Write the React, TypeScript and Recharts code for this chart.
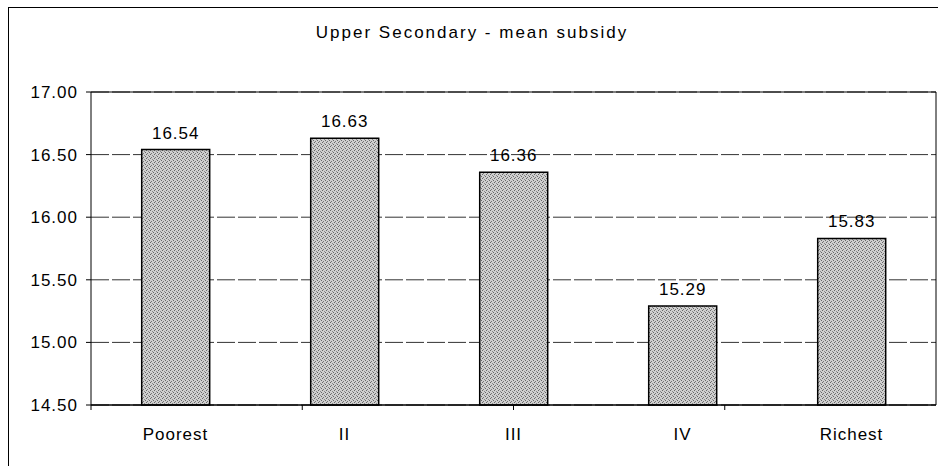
import React from 'react';
import { BarChart, Bar, XAxis, YAxis, CartesianGrid, LabelList, ReferenceLine } from 'recharts';

const quintiles = ['Poorest', 'II', 'III', 'IV', 'Richest'];
const meanSubsidy = [16.54, 16.63, 16.36, 15.29, 15.83];
const yTicks = [14.5, 15.0, 15.5, 16.0, 16.5, 17.0];
const edgeTicks = [0, 1, 2, 3, 4, 5];

const data = quintiles.map((q, i) => ({ name: q, value: meanSubsidy[i] }));

const font = '"Liberation Sans", Arial, sans-serif';
const textStyle = { fill: '#000', fontSize: 17, fontFamily: font, letterSpacing: 1 };

const App: React.FC = () => {
  return (
    <>
      <style>{'body{margin:0;overflow:hidden;}'}</style>
      <div
        style={{
          position: 'relative',
          width: 929,
          height: 459,
          marginTop: 7,
          marginLeft: 8,
          borderLeft: '1px solid #000',
          borderTop: '1px solid #000',
          fontFamily: font,
          background: '#fff',
        }}
      >
        <div
          style={{
            position: 'absolute',
            top: 15,
            left: 0,
            width: 926,
            textAlign: 'center',
            fontSize: 17,
            letterSpacing: 2,
            color: '#000',
          }}
        >
          Upper Secondary - mean subsidy
        </div>
        <BarChart
          width={929}
          height={459}
          data={data}
          margin={{ top: 84, right: 2, bottom: 0, left: 0 }}
          barCategoryGap="30%"
        >
          <defs>
            <pattern id="stipple" width={4} height={4} patternUnits="userSpaceOnUse">
              <rect width={4} height={4} fill="#cfcfcf" />
              <rect x={0} y={0} width={1} height={1} fill="#666" />
              <rect x={2} y={1} width={1} height={1} fill="#777" />
              <rect x={1} y={2} width={1} height={1} fill="#666" />
              <rect x={3} y={3} width={1} height={1} fill="#888" />
            </pattern>
          </defs>
          <CartesianGrid horizontal vertical={false} stroke="#333" strokeDasharray="18 3" />
          <CartesianGrid
            horizontal={false}
            vertical
            stroke="#000"
            verticalCoordinatesGenerator={({ offset }: any) => [offset.left + offset.width]}
          />
          <XAxis
            xAxisId={1}
            dataKey="name"
            height={61}
            tickLine={false}
            tickMargin={16}
            axisLine={false}
            tick={textStyle}
          />
          {/* category-boundary tick marks + axis line */}
          <XAxis
            xAxisId={0}
            type="number"
            domain={[0, 5]}
            ticks={edgeTicks}
            height={1}
            tickSize={5}
            tickFormatter={() => ''}
            axisLine={{ stroke: '#000', strokeWidth: 1.5 }}
            tickLine={{ stroke: '#000', strokeWidth: 1 }}
          />
          <YAxis
            domain={[14.5, 17]}
            ticks={yTicks}
            width={82}
            tickSize={5}
            tickMargin={8}
            stroke="#000"
            tickFormatter={(v: number) => v.toFixed(2)}
            tick={textStyle}
          />
          <ReferenceLine y={17} stroke="#000" xAxisId={0} />
          <Bar
            xAxisId={1}
            dataKey="value"
            fill="url(#stipple)"
            stroke="#000"
            strokeWidth={1.5}
            isAnimationActive={false}
          >
            <LabelList
              dataKey="value"
              position="top"
              offset={11}
              formatter={(v: number) => v.toFixed(2)}
              style={textStyle}
            />
          </Bar>
        </BarChart>
      </div>
    </>
  );
};

export default App;
